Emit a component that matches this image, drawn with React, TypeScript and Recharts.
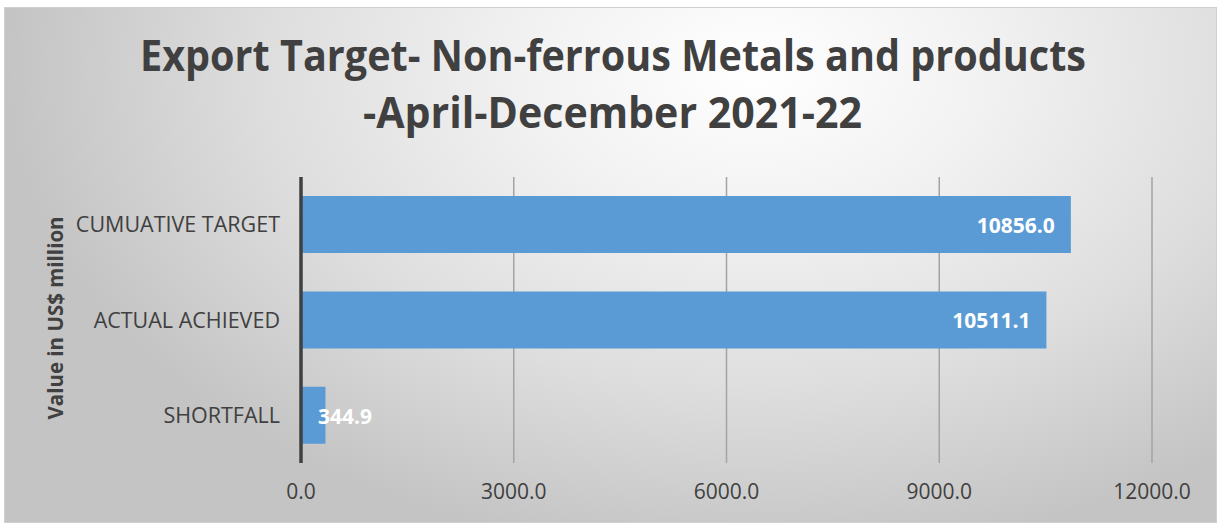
import React from "react";
import { BarChart, Bar, XAxis, YAxis, CartesianGrid, LabelList } from "recharts";

const categories = ["CUMUATIVE TARGET", "ACTUAL ACHIEVED", "SHORTFALL"];
const values = [10856.0, 10511.1, 344.9];
const xTicks = [0, 3000, 6000, 9000, 12000];
const titleLines = ["Export Target- Non-ferrous Metals and products", "-April-December 2021-22"];
const yAxisTitle = "Value in US$ million";

const data = categories.map((name, i) => ({ name, value: values[i] }));

const FONT = "'Open Sans', 'DejaVu Sans', sans-serif";
const TEXT = "#404040";

const BarLabel = (props: any) => {
  const { x, y, width, height, value } = props;
  const txt = Number(value).toFixed(1);
  const est = txt.length * 0.56 * 21;
  const fits = width > est + 30;
  const tx = fits ? x + width - 16 : x + 17;
  return (
    <text
      x={tx}
      y={y + height / 2 + 8.5}
      textAnchor={fits ? "end" : "start"}
      fill="#ffffff"
      fontFamily={FONT}
      fontWeight={700}
      fontSize={21}
    >
      {txt}
    </text>
  );
};

export default function App() {
  return (
    <div style={{ position: "absolute", left: 0, top: 0, width: 1220, height: 525, background: "#ffffff", overflow: "hidden" }}>
      <div
        style={{
          position: "absolute",
          left: 4,
          top: 7,
          width: 1211,
          height: 514,
          border: "1px solid #d0d0d0",
          background: "radial-gradient(ellipse 62% 95% at 62% 12%, #ffffff 0%, #f2f2f2 30%, #dedede 65%, #c4c4c4 100%)",
        }}
      />
      <div style={{ position: "absolute", left: 0, top: 0 }}>
        <BarChart
          width={1220}
          height={525}
          data={data}
          layout="vertical"
          margin={{ top: 177, right: 68, bottom: 32, left: 0 }}
          barCategoryGap="20%"
        >
          <CartesianGrid horizontal={false} vertical={true} stroke="#a3a3a3" strokeWidth={1.5} />
          <XAxis
            type="number"
            domain={[0, 12000]}
            ticks={xTicks}
            height={30}
            tickFormatter={(v: number) => v.toFixed(1)}
            axisLine={false}
            tickLine={false}
            tickMargin={15}
            tick={{ fill: TEXT, fontSize: 21, fontFamily: FONT }}
          />
          <YAxis
            type="category"
            dataKey="name"
            width={301}
            axisLine={{ stroke: TEXT, strokeWidth: 3.5 }}
            tickLine={false}
            tickMargin={15}
            tick={{ fill: TEXT, fontSize: 21.5, fontFamily: FONT }}
          />
          <Bar dataKey="value" fill="#5b9bd5" isAnimationActive={false}>
            <LabelList dataKey="value" content={BarLabel} />
          </Bar>
        </BarChart>
      </div>
      <svg width={1220} height={525} style={{ position: "absolute", left: 0, top: 0, pointerEvents: "none" }}>
        <text
          x={613}
          y={70.7}
          textAnchor="middle"
          fill={TEXT}
          fontFamily={FONT}
          fontWeight={700}
          fontSize={43}
          textLength={946}
          lengthAdjust="spacingAndGlyphs"
        >
          {titleLines[0]}
        </text>
        <text
          x={612.5}
          y={128.3}
          textAnchor="middle"
          fill={TEXT}
          fontFamily={FONT}
          fontWeight={700}
          fontSize={43}
          textLength={499}
          lengthAdjust="spacingAndGlyphs"
        >
          {titleLines[1]}
        </text>
        <text
          x={62.5}
          y={318}
          transform="rotate(-90 62.5 318)"
          textAnchor="middle"
          fill={TEXT}
          fontFamily={FONT}
          fontWeight={700}
          fontSize={20.5}
        >
          {yAxisTitle}
        </text>
      </svg>
    </div>
  );
}
